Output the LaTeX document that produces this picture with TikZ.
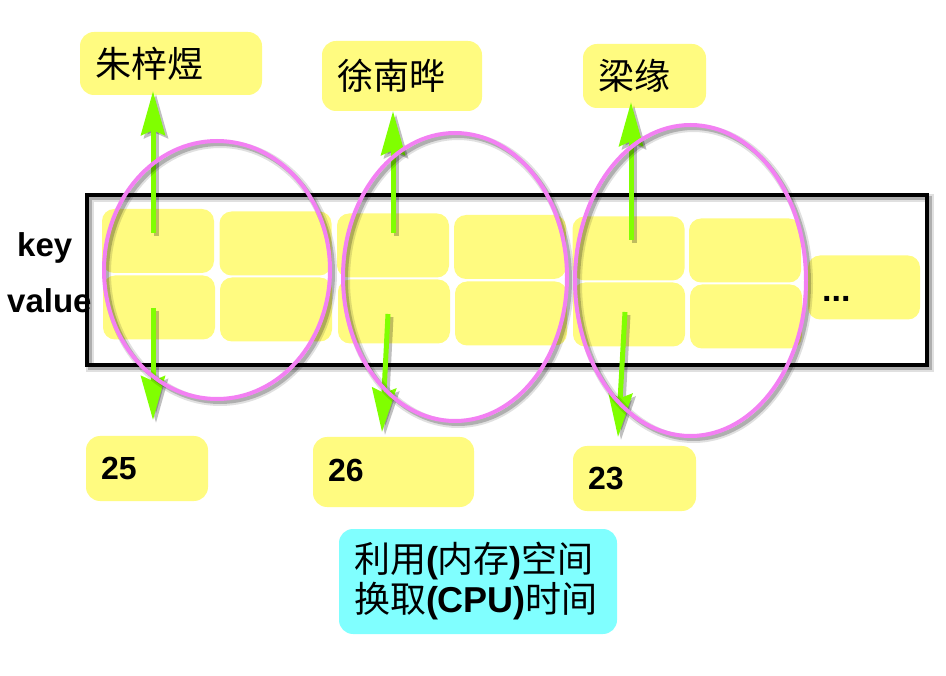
\documentclass[tikz,border=0pt]{standalone}
\usepackage{fontspec}
\setmainfont{Liberation Sans}
\newfontfamily\cjk{Noto Sans CJK SC}
\newcommand{\zh}[1]{{\cjk #1}}
\usetikzlibrary{arrows.meta,shapes.geometric,calc}
\definecolor{ylw}{HTML}{FFFB80}
\definecolor{cyn}{HTML}{80FFFF}
\definecolor{pnk}{HTML}{F380F3}
\definecolor{grn}{HTML}{80FF00}
\begin{document}
\begin{tikzpicture}[x=1pt,y=-1pt,
  shd/.style={preaction={draw=black, draw opacity=0.12, line width=#1+4pt, transform canvas={xshift=3pt,yshift=-3pt}},
              preaction={draw=black, draw opacity=0.22, line width=#1, transform canvas={xshift=3pt,yshift=-3pt}}},
  ashd/.style={preaction={draw=black, draw opacity=0.25, fill opacity=0.25, line width=5pt, transform canvas={xshift=3pt,yshift=-3pt}}},
  cell/.style={fill=ylw, rounded corners=12pt, minimum width=112pt, minimum height=64pt, inner sep=0pt},
  lbl/.style={fill=ylw, rounded corners=14pt, inner xsep=15pt, inner ysep=0pt, align=left},
  zhfont/.style={font=\fontsize{36pt}{43pt}\selectfont\cjk},
  numfont/.style={font=\fontsize{32pt}{36pt}\selectfont\bfseries},
  ell/.style={ellipse, draw=pnk, line width=4pt, inner sep=0pt, shd=4pt},
  arr/.style={draw=grn, line width=5pt, -{Stealth[length=44pt,width=24pt,inset=5pt]}, ashd},
  frame/.style={draw=black, line width=4.5pt, inner sep=0pt, shd=4.5pt},
  side/.style={font=\fontsize{33pt}{36pt}\selectfont\bfseries, inner sep=0pt}]
\useasboundingbox (0,0) rectangle (946,676);

% frame
\node[frame, minimum width=840pt, minimum height=170pt] (R) at (507,280) {};

% side labels
\node[side, anchor=base west] (key) at (17,257) {key};
\node[side, anchor=base west] (val) at (7,313) {value};

% cells
\node[cell] (K1) at (158,241) {};
\node[cell] (V1) at (159,307.5) {};
\node[cell] (K2) at (275.5,243.5) {};
\node[cell] (V2) at (276,309.5) {};
\node[cell] (K3) at (393,245.5) {};
\node[cell] (V3) at (394,311.5) {};
\node[cell] (K4) at (510,247) {};
\node[cell] (V4) at (511,313.5) {};
\node[cell] (K5) at (628.5,248.5) {};
\node[cell] (V5) at (629,314.5) {};
\node[cell] (K6) at (745,250.5) {};
\node[cell] (V6) at (746,316.5) {};
\node[cell] (K7) at (864,287.5) {};
\node[font=\fontsize{34pt}{36pt}\selectfont\bfseries, inner sep=0pt, anchor=base west] (dots) at (822,302) {...};

% top labels
\node[lbl, zhfont, minimum width=182pt, minimum height=63pt, text width=152pt] (L1) at (171,63.5) {朱梓煜};
\node[lbl, zhfont, minimum width=160pt, minimum height=70pt, text width=130pt] (L2) at (402,76) {\raisebox{4pt}{徐南晔}};
\node[lbl, zhfont, minimum width=123pt, minimum height=64pt, text width=93pt] (L3) at (644.5,76) {梁缘};

% bottom labels
\node[lbl, numfont, minimum width=122pt, minimum height=65pt, text width=92pt] (B1) at (147,468.5) {25};
\node[lbl, numfont, minimum width=161pt, minimum height=70pt, text width=131pt] (B2) at (393.5,472) {\raisebox{3pt}{26}};
\node[lbl, numfont, minimum width=123pt, minimum height=65pt, text width=93pt] (B3) at (634.5,478.5) {23};

% note
\node[lbl, fill=cyn, font=\fontsize{36pt}{40pt}\selectfont, minimum width=278pt, minimum height=105pt, text width=248pt] (C) at (478,581.5)
  {\zh{利用}\textbf{(}\zh{内存}\textbf{)}\zh{空间}\\\zh{换取}\textbf{(CPU)}\zh{时间}};

% arrows
\coordinate (u1) at (153,233);
\coordinate (u2) at (393,233);
\coordinate (u3) at (631,240);
\coordinate (s1) at (153,308);
\coordinate (s2) at (388,314);
\coordinate (s3) at (625,312);
\coordinate (d1) at (153,420);
\coordinate (d2) at (382,432);
\coordinate (d3) at (618,437);
\draw[arr] (u1) -- ($(u1 |- L1.south)+(0,-4)$);
\draw[arr] (u2) -- (u2 |- L2.south);
\draw[arr] (u3) -- ($(u3 |- L3.south)+(0,-6)$);
\draw[arr] (s1) -- (d1);
\draw[arr] (s2) -- (d2);
\draw[arr] (s3) -- (d3);

% ellipses
\node[ell, minimum width=226pt, minimum height=258pt] (E1) at (217,270) {};
\node[ell, minimum width=224pt, minimum height=288pt] (E2) at (455,277) {};
\node[ell, minimum width=231pt, minimum height=311pt] (E3) at (690.5,280.5) {};
\end{tikzpicture}
\end{document}
